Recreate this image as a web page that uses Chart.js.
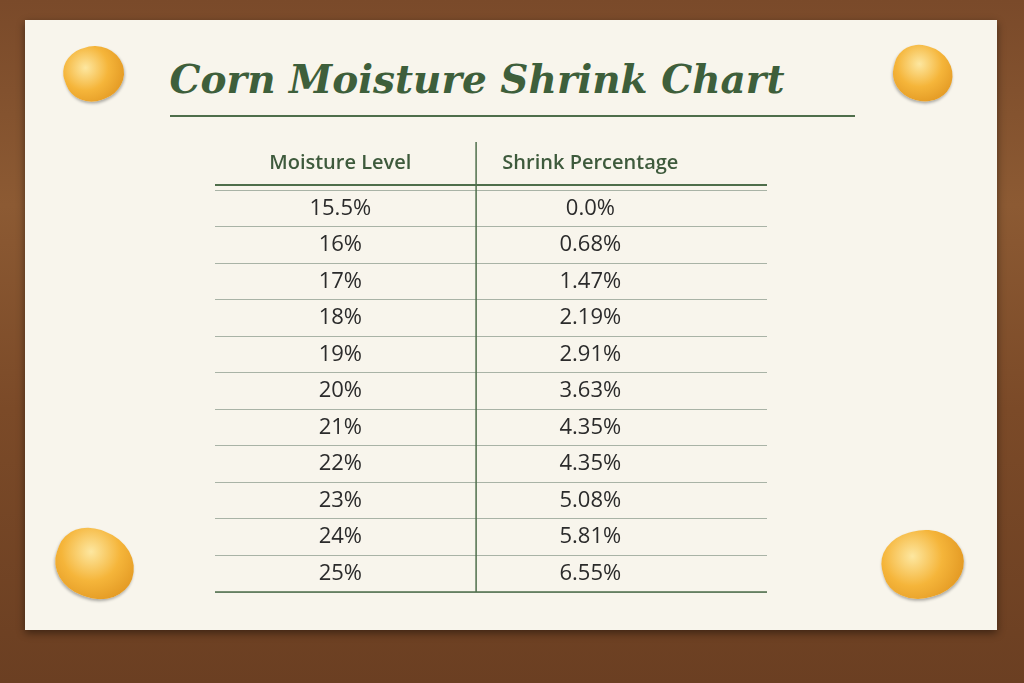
<!DOCTYPE html>
<html><head><meta charset="utf-8">
<script src="https://cdn.jsdelivr.net/npm/chart.js@4"></script>
<style>
html,body{margin:0;width:1024px;height:683px;overflow:hidden}
body{background:linear-gradient(180deg,#7a4a2a 0%,#8c5a33 30%,#7b4a28 60%,#6b3f22 100%);position:relative}
#card{position:absolute;left:25px;top:20px;width:972px;height:610px;background:#f8f5ec;box-shadow:0 3px 8px rgba(0,0,0,.45)}
#title{position:absolute;left:0;width:954px;top:56px;text-align:center;font:italic bold 39px "DejaVu Serif";color:#3e5f3b}
#uline{position:absolute;left:170px;top:115px;width:685px;height:2px;background:#4f6e4b}
.k{position:absolute;width:60px;height:55px;border-radius:45% 55% 50% 50%;background:radial-gradient(circle at 40% 35%,#fde7a0 0%,#f5b53a 45%,#d98a17 100%);box-shadow:0 2px 3px rgba(0,0,0,.3)}
#c{position:absolute;left:0;top:0}
</style></head><body>
<div id="card"></div>
<div class="k" style="left:64px;top:46px;transform:rotate(-20deg)"></div>
<div class="k" style="left:893px;top:46px;transform:rotate(15deg)"></div>
<div class="k" style="left:55px;top:530px;width:80px;height:68px;transform:rotate(20deg)"></div>
<div class="k" style="left:882px;top:530px;width:82px;height:68px;transform:rotate(-15deg)"></div>
<div id="title">Corn Moisture Shrink Chart</div>
<div id="uline"></div>
<canvas id="c" width="1024" height="683" style="width:1024px;height:683px"></canvas>
<script>
const headers=["Moisture Level","Shrink Percentage"];
const moisture=["15.5%","16%","17%","18%","19%","20%","21%","22%","23%","24%","25%"];
const shrink=["0.0%","0.68%","1.47%","2.19%","2.91%","3.63%","4.35%","4.35%","5.08%","5.81%","6.55%"];
const colX=[2.27,6.8], divX=4.73;
const tablePlugin={id:'tbl',afterDatasetsDraw(ch){
 const c=ch.ctx,x=ch.scales.x,y=ch.scales.y,a=ch.chartArea;
 c.save();
 c.textAlign='center';c.textBaseline='middle';
 c.font='22px "Open Sans"';c.fillStyle='#2b2b2b';
 ch.data.datasets.forEach((ds,i)=>{ch.getDatasetMeta(i).data.forEach((p,j)=>{c.fillText(ds.labels[j],p.x,p.y);});});
 c.font='600 20px "Open Sans"';c.fillStyle='#3e5a3c';
 headers.forEach((h,i)=>c.fillText(h,x.getPixelForValue(colX[i]),a.top-27));
 c.strokeStyle='#4f6e4b';c.lineWidth=2;
 c.beginPath();c.moveTo(a.left,a.top-5);c.lineTo(a.right,a.top-5);c.stroke();
 c.lineWidth=1.5;const dx=x.getPixelForValue(divX);
 c.beginPath();c.moveTo(dx,a.top-48);c.lineTo(dx,a.bottom);c.stroke();
 c.beginPath();c.moveTo(a.left,a.bottom);c.lineTo(a.right,a.bottom);c.stroke();
 c.restore();}};
new Chart(document.getElementById('c'),{type:'scatter',
 data:{datasets:[
  {labels:moisture,data:moisture.map(m=>({x:colX[0],y:m})),pointRadius:0},
  {labels:shrink,data:moisture.map(m=>({x:colX[1],y:m})),pointRadius:0}]},
 options:{responsive:false,animation:false,devicePixelRatio:1,
  layout:{padding:{left:215,right:257,top:190,bottom:91}},
  plugins:{legend:{display:false},tooltip:{enabled:false}},
  scales:{x:{type:'linear',min:0,max:10,display:false},
   y:{type:'category',labels:moisture,offset:true,border:{display:false},
    grid:{offset:true,color:'#a9b3a6',lineWidth:1,drawTicks:false},ticks:{display:false}}}},
 plugins:[tablePlugin]});
</script>
</body></html>
